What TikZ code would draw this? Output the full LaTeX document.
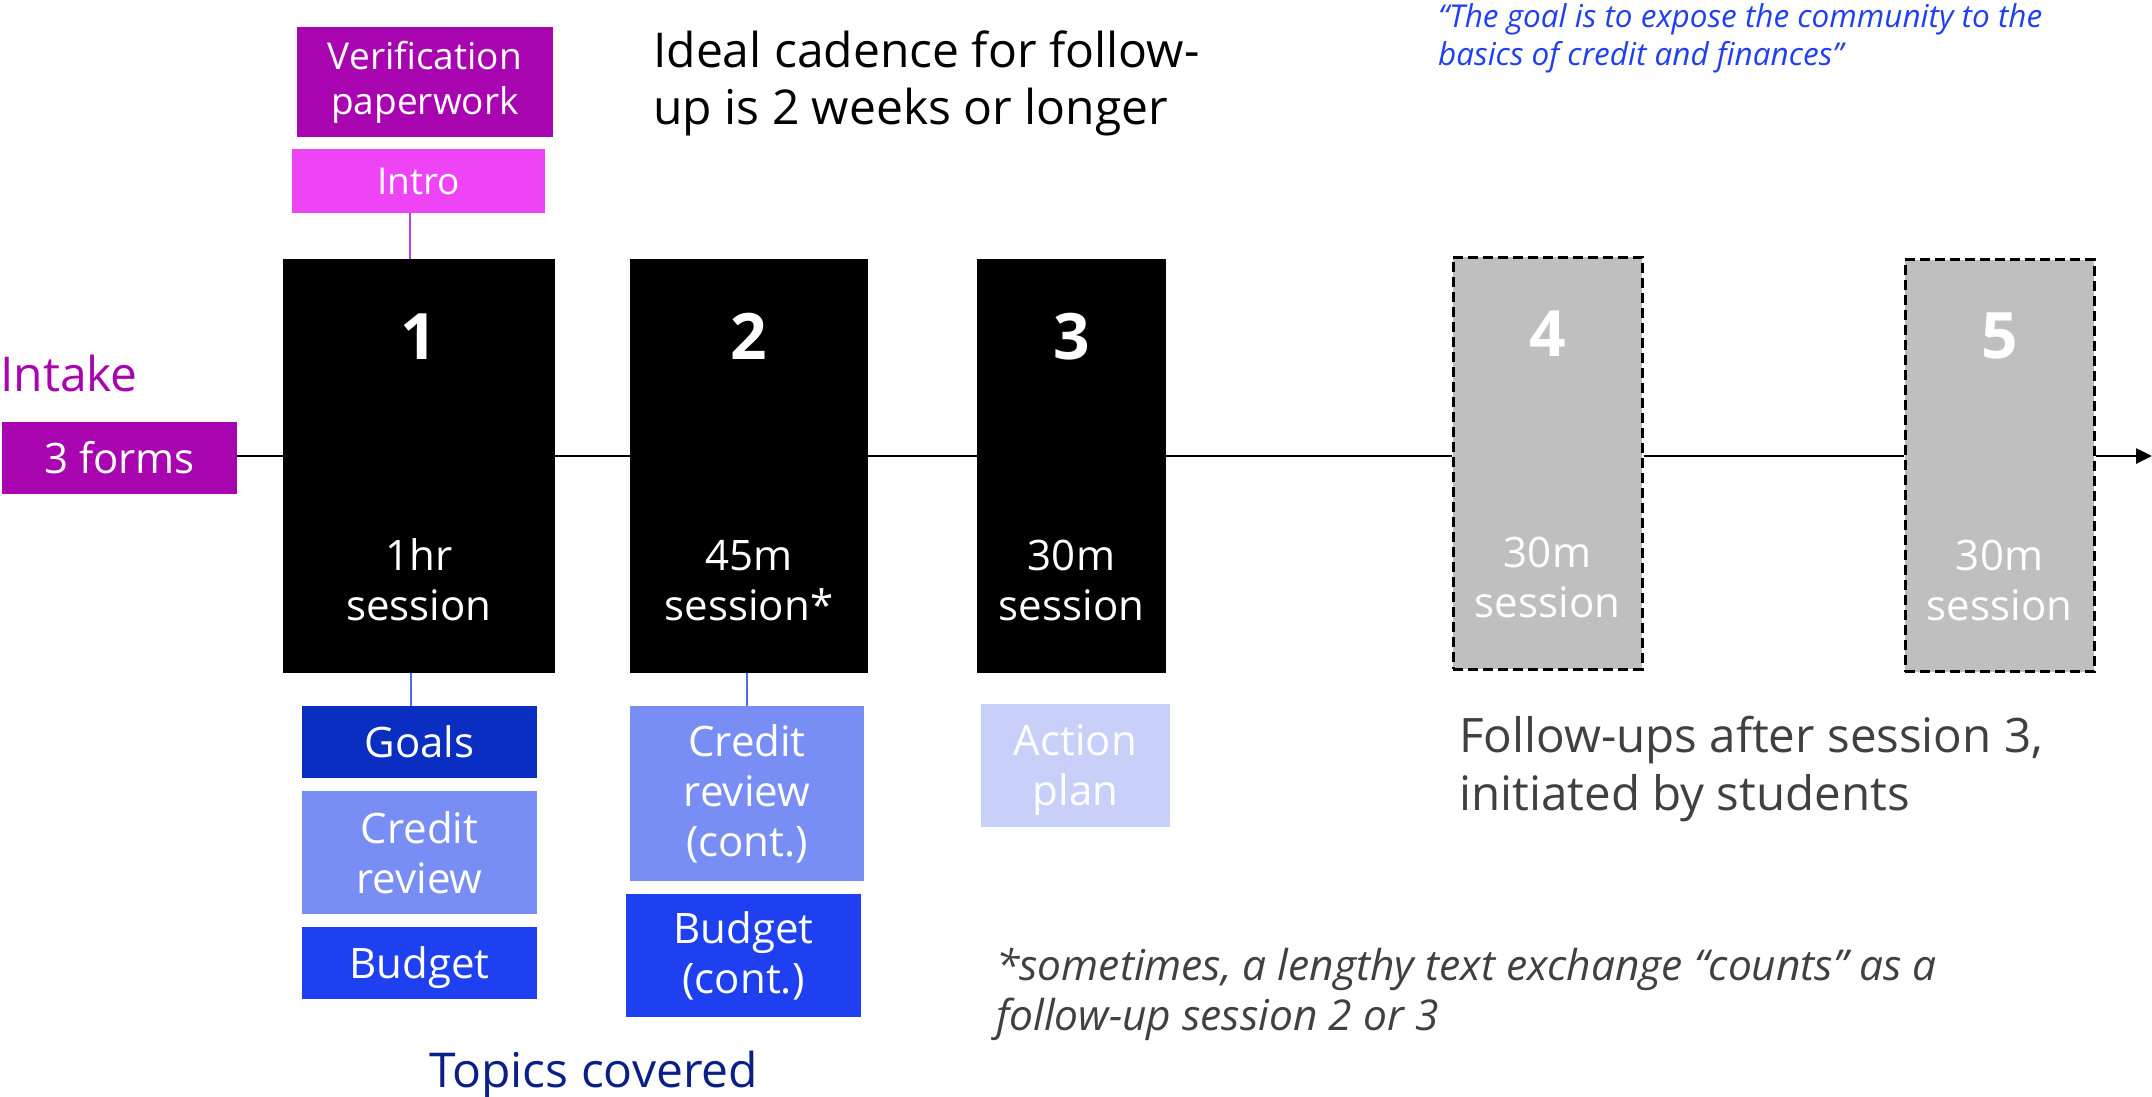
\documentclass[tikz,border=0pt]{standalone}
\usepackage{fontspec}
\setmainfont{Open Sans}
\usetikzlibrary{arrows.meta,calc}

\definecolor{intakepurple}{HTML}{A805B0}
\definecolor{intromagenta}{HTML}{EE44F5}
\definecolor{goalsblue}{HTML}{0A2DC2}
\definecolor{creditblue}{HTML}{788EF5}
\definecolor{budgetblue}{HTML}{1E40F0}
\definecolor{actionblue}{HTML}{C8D0FA}
\definecolor{topicsnavy}{HTML}{0A1F8A}
\definecolor{quoteblue}{HTML}{2040F0}
\definecolor{notegray}{HTML}{404040}
\definecolor{laterGray}{HTML}{BFBFBF}
\definecolor{introline}{HTML}{B040E0}
\definecolor{topicline}{HTML}{4A6AF0}

\newcommand{\fs}[2]{\fontsize{#1}{#2}\selectfont}

\begin{document}
\begin{tikzpicture}[x=1pt,y=-1pt,
  tag/.style={rectangle, inner sep=0pt, text=white, align=center},
  stagebox/.style={tag, fill=black, minimum height=414pt},
  laterbox/.style={tag, fill=laterGray, draw=black, dashed,
    dash pattern=on 10pt off 5pt, line width=3pt, minimum height=412pt},
  stagenum/.style={text=white, inner sep=0pt, font=\fs{64}{70}\bfseries},
  stagelen/.style={text=white, inner sep=0pt, align=center, anchor=south,
    font=\fs{42}{50}},
  topic/.style={tag, font=\fs{42}{50}},
  prep/.style={tag, font=\fs{37}{45}},
  freetext/.style={inner sep=0pt, anchor=base west},
  timeline/.style={line width=2.5pt, black},
]
\useasboundingbox (0,0) rectangle (2152,1096);

% intake and preparation
\node[freetext, text=intakepurple, font=\fs{48}{56}] (intake) at (0,391) {Intake};
\node[tag, fill=intakepurple, minimum width=235pt, minimum height=72pt,
  font=\fs{42}{50}] (forms) at (119.5,458) {3 forms};
\node[prep, fill=intakepurple, minimum width=256pt, minimum height=110pt]
  (verif) at (425,82) {Verification\\paperwork};
\node[prep, fill=intromagenta, minimum width=253pt, minimum height=64pt]
  (intro) at (418.5,181) {Intro};

% heading and quote
\node[freetext, font=\fs{48}{57}] (head1) at (653,67) {Ideal cadence for follow-};
\node[freetext, font=\fs{48}{57}] (head2) at (653,124) {up is 2 weeks or longer};
\node[freetext, text=quoteblue, font=\fs{31.5}{38}\itshape] (quote1) at (1438,27)
  {“The goal is to expose the community to the};
\node[freetext, text=quoteblue, font=\fs{31.5}{38}\itshape] (quote2) at (1438,65)
  {basics of credit and finances”};

% sessions
\node[stagebox, minimum width=272pt] (b1) at (419,466) {};
\node[stagebox, minimum width=238pt] (b2) at (749,466) {};
\node[stagebox, minimum width=189pt] (b3) at (1071.5,466) {};
\node[laterbox, minimum width=189pt] (b4) at (1547.5,463) {};
\node[laterbox, minimum width=189pt] (b5) at (1999.5,465.5) {};

\foreach \b/\n/\t in {b1/1/1hr\\session, b2/2/45m\\session*, b3/3/30m\\session,
                      b4/4/30m\\session, b5/5/30m\\session} {
  \node[stagenum] (\b num) at ($(\b.north)+(0,78)$) {\n};
  \node[stagelen] (\b len) at ($(\b.south)+(0,-52)$) {\t};
}

% timeline
\coordinate (tlend) at (2152,456);
\draw[timeline] (forms.east |- tlend) -- (b1.west |- tlend);
\draw[timeline] (b1.east |- tlend) -- (b2.west |- tlend);
\draw[timeline] (b2.east |- tlend) -- (b3.west |- tlend);
\draw[timeline] (b3.east |- tlend) -- (b4.west |- tlend);
\draw[timeline] (b4.east |- tlend) -- (b5.west |- tlend);
\draw[timeline, -{Triangle[length=16pt,width=15pt]}] (b5.east |- tlend) -- (tlend);

% topics
\node[topic, fill=goalsblue, minimum width=235pt, minimum height=72pt]
  (goals) at (419.5,742) {Goals};
\node[topic, fill=creditblue, minimum width=235pt, minimum height=123pt]
  (credit1) at (419.5,852.5) {Credit\\review};
\node[topic, fill=budgetblue, minimum width=235pt, minimum height=72pt,
  text depth=0pt] (budget1) at (419.5,963) {Budget};
\node[topic, fill=creditblue, minimum width=234pt, minimum height=175pt]
  (credit2) at (747,793.5) {Credit\\review\\(cont.)};
\node[topic, fill=budgetblue, minimum width=235pt, minimum height=123pt]
  (budget2) at (743.5,955.5) {Budget\\(cont.)};
\node[topic, fill=actionblue, minimum width=189pt, minimum height=123pt,
  text depth=0pt] (action) at (1075.5,765.5) {Action\\plan};

% links from sessions
\draw[introline, line width=1.5pt] ([xshift=-8.5pt]intro.south) -- ([xshift=-8.5pt]intro.south |- b1.north);
\draw[topicline, line width=1.5pt] ([xshift=-8pt]b1.south) -- ([xshift=-8pt]b1.south |- goals.north);
\draw[topicline, line width=1.5pt] (credit2.north |- b2.south) -- (credit2.north);

\node[freetext, text=topicsnavy, font=\fs{48}{56}] (topics) at (429,1087) {Topics covered};

% notes
\node[freetext, text=notegray, font=\fs{47.5}{58}] (follow1) at (1459,752) {Follow-ups after session 3,};
\node[freetext, text=notegray, font=\fs{47.5}{58}] (follow2) at (1459,810) {initiated by students};
\node[freetext, text=notegray, font=\fs{42.5}{50}\itshape] (note1) at (996,980)
  {*sometimes, a lengthy text exchange “counts” as a};
\node[freetext, text=notegray, font=\fs{42.5}{50}\itshape] (note2) at (996,1030)
  {follow-up session 2 or 3};
\end{tikzpicture}
\end{document}
